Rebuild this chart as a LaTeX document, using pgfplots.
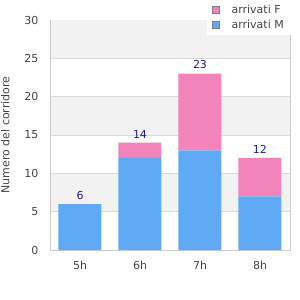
\documentclass[border=0pt]{standalone}
\usepackage{pgfplots}
\pgfplotsset{compat=1.18}
\usepackage{pgfplotstable}
\usepackage{fontspec}
\setmainfont{DejaVu Sans}
\definecolor{pinkF}{HTML}{F383BB}
\definecolor{blueM}{HTML}{60A9F5}
\definecolor{navyL}{HTML}{1F1F8F}
\definecolor{band}{HTML}{F2F2F2}
\definecolor{gridc}{HTML}{DCDCDC}
\definecolor{borderc}{HTML}{CCCCCC}
\definecolor{tickc}{HTML}{444444}
\pgfplotstableread{
x m f t
0 6 0 6
1 12 2 14
2 13 10 23
3 7 5 12
}\data
\pgfplotsset{common/.style={
  scale only axis,
  width=240pt, height=230pt,
  xmin=-0.5, xmax=3.5,
  ymin=0, ymax=30,
  axis line style={draw=none},
  major tick length=0pt,
  clip=false,
  font=\fontsize{11pt}{13pt}\selectfont,
}}
\begin{document}
\begin{tikzpicture}
\begin{axis}[common, xtick=\empty, ytick=\empty]
\fill[band] (axis cs:-0.5,5) rectangle (axis cs:3.5,10);
\fill[band] (axis cs:-0.5,15) rectangle (axis cs:3.5,20);
\fill[band] (axis cs:-0.5,25) rectangle (axis cs:3.5,30);
\draw[gridc] (axis cs:-0.5,5) -- (axis cs:3.5,5);
\draw[gridc] (axis cs:-0.5,10) -- (axis cs:3.5,10);
\draw[gridc] (axis cs:-0.5,15) -- (axis cs:3.5,15);
\draw[gridc] (axis cs:-0.5,20) -- (axis cs:3.5,20);
\draw[gridc] (axis cs:-0.5,25) -- (axis cs:3.5,25);
\draw[borderc] (rel axis cs:0,1) -- (rel axis cs:0,0) -- (rel axis cs:1,0) -- (rel axis cs:1,1);
\addplot[draw=none, mark=none,
  nodes near coords, point meta=explicit,
  nodes near coords style={text=navyL, anchor=south, yshift=1pt, font=\fontsize{11pt}{13pt}\selectfont, /pgf/number format/assume math mode=true}]
  table[x=x, y=t, meta=t] {\data};
\coordinate (sw) at (rel axis cs:0,0);
\coordinate (ne) at (rel axis cs:1,1);
\end{axis}
\begin{axis}[common,
  ybar stacked,
  bar width=43pt,
  ytick={0,5,...,30},
  xtick={0,1,2,3},
  xticklabels={5h,6h,7h,8h},
  tick label style={text=tickc},
  /pgf/number format/assume math mode=true,
  yticklabel style={xshift=-8pt},
  xticklabel style={yshift=-8pt},
  ylabel={Numero del corridore},
  ylabel style={at={(axis description cs:-0.186,0.5)}, anchor=center, inner sep=0pt, text=tickc},
  legend style={at={(axis description cs:1.0417,1.087)}, anchor=north east,
    draw=none, fill=white, font=\fontsize{11pt}{13pt}\selectfont,
    inner xsep=5pt, inner ysep=3pt, row sep=1pt, text=tickc,
    /tikz/every odd column/.append style={column sep=10pt}},
  legend cell align=left,
  reverse legend,
  legend image code/.code={\draw[#1,draw=gray] (0pt,-3.5pt) rectangle (7pt,3.5pt);},
]
\addplot[fill=blueM, draw=none] table[x=x, y=m] {\data};
\addlegendentry{arrivati M\rule{9pt}{0pt}}
\addplot[fill=pinkF, draw=none] table[x=x, y=f] {\data};
\addlegendentry{arrivati F\rule{9pt}{0pt}}
\end{axis}
\path ([shift={(-50pt,-50pt)}]sw) rectangle ([shift={(10pt,20pt)}]ne);
\end{tikzpicture}
\end{document}
